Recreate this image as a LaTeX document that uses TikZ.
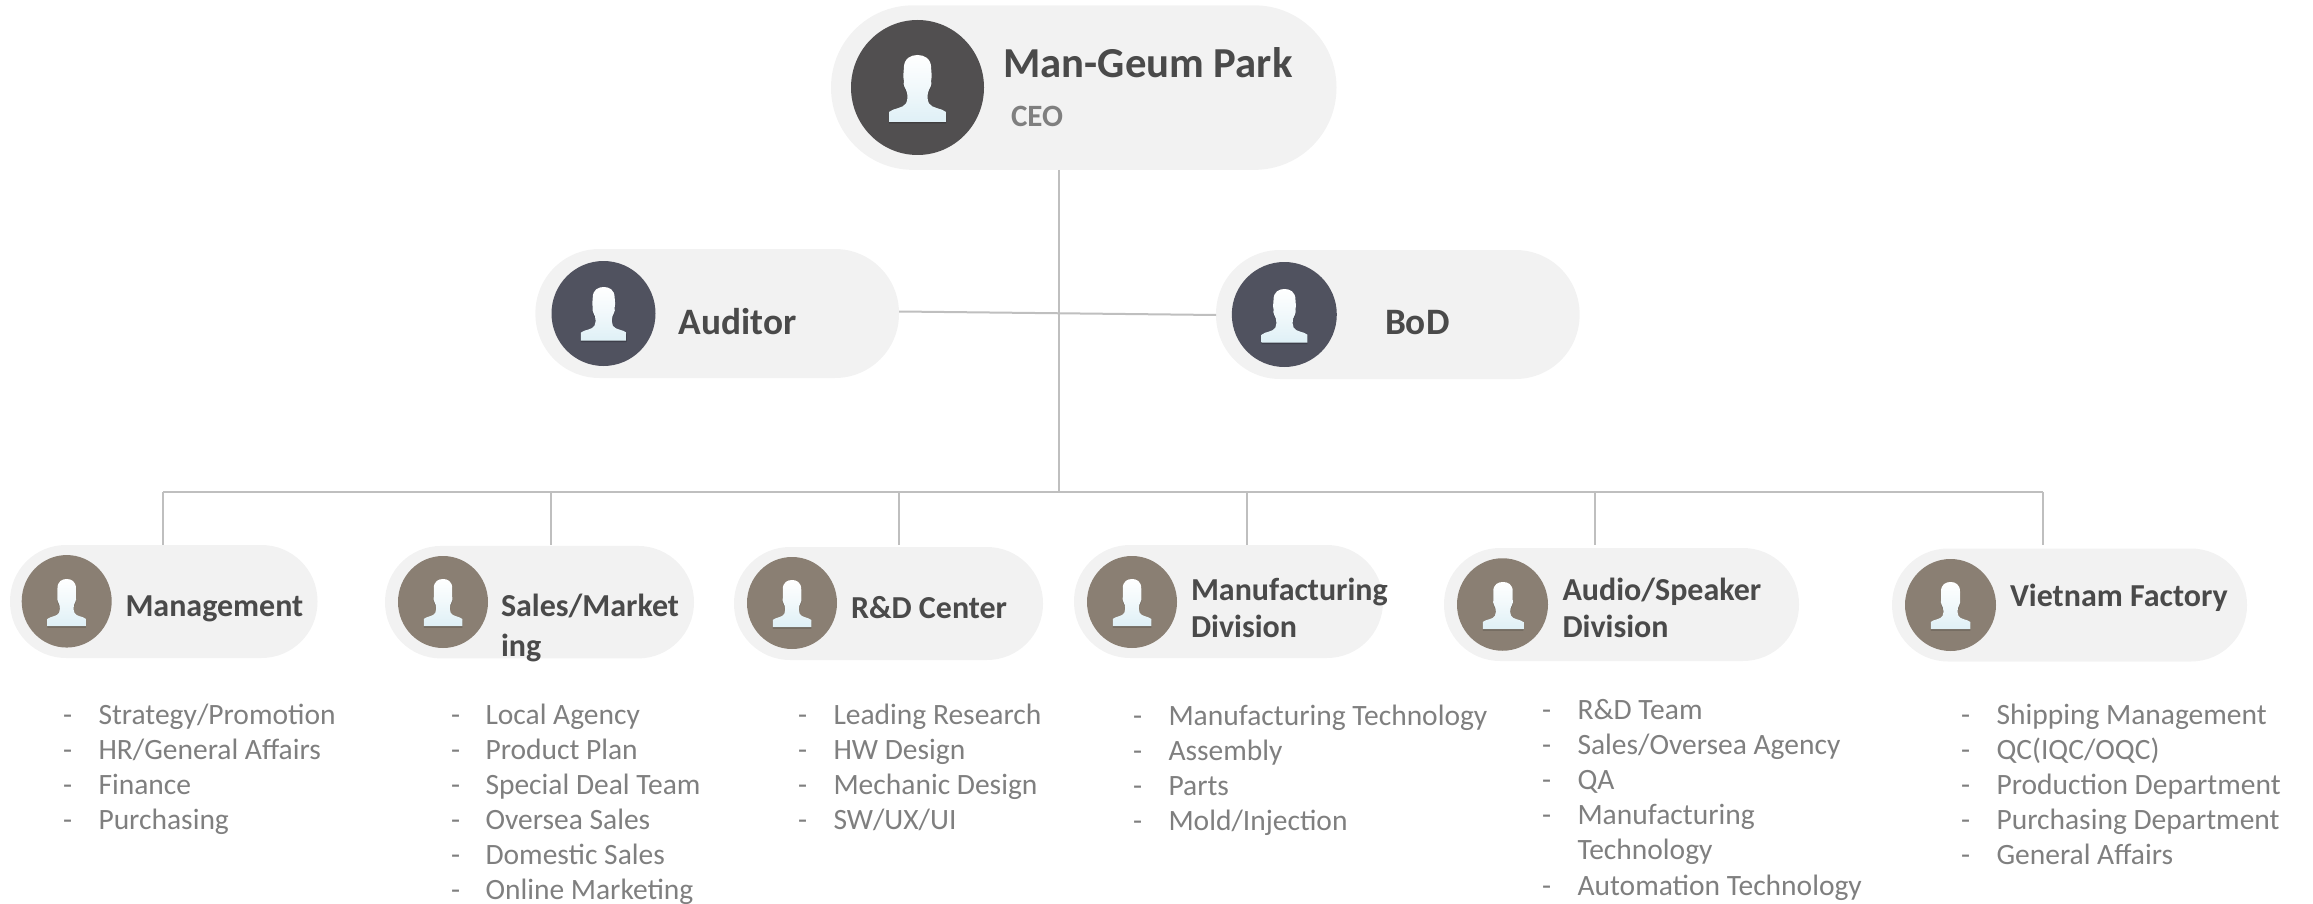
\documentclass[tikz,border=0pt]{standalone}
\usepackage{fontspec}
\setmainfont{Carlito}
\usetikzlibrary{shapes.geometric}
\definecolor{pillfill}{HTML}{F2F2F2}
\definecolor{linegrey}{HTML}{BFBFBF}
\definecolor{brownc}{HTML}{8A7F73}
\definecolor{darkc}{HTML}{514F50}
\definecolor{slatec}{HTML}{50525F}
\definecolor{nametext}{HTML}{4A4A4A}
\definecolor{listtext}{HTML}{7F7F7F}
\definecolor{iconbottom}{HTML}{DFF0F6}
\tikzset{
  pill/.style={rectangle,fill=pillfill,draw=none,inner sep=0pt,outer sep=0pt},
  disc/.style={ellipse,fill=#1,draw=none,inner sep=0pt,outer sep=0pt},
  link/.style={draw=linegrey,line width=2pt},
  nametxt/.style={anchor=base west,yshift=-1pt,inner sep=0pt,outer sep=0pt,text=nametext,align=left,font=\bfseries\fontsize{#1}{37.7}\selectfont},
  itemtxt/.style={anchor=base west,yshift=-1pt,inner sep=0pt,outer sep=0pt,text=listtext,font=\fontsize{29.5}{33}\selectfont},
}
\newcommand{\iconpath}{(-.5,1) -- (-.5,.85) .. controls (-.42,.79) and (-.25,.80) .. (-.2,.72) .. controls (-.17,.67) and (-.17,.6) .. (-.19,.55) .. controls (-.2,.5) and (-.26,.47) .. (-.24,.38) .. controls (-.26,.3) and (-.24,.27) .. (-.24,.2) .. controls (-.24,.05) and (-.12,0) .. (0,0) .. controls (.12,0) and (.24,.05) .. (.24,.2) .. controls (.24,.27) and (.26,.3) .. (.24,.38) .. controls (.26,.47) and (.2,.5) .. (.19,.55) .. controls (.17,.6) and (.17,.67) .. (.2,.72) .. controls (.25,.80) and (.42,.79) .. (.5,.85) -- (.5,1) -- cycle}
% centre x, top y, width, height
\newcommand{\person}[4]{%
  \path[fill=black,opacity=.22,shift={(#1,#2+1.5)},x=#3pt,y=-#4pt] \iconpath;
  \path[top color=white,bottom color=iconbottom,middle color=white!55!iconbottom,shift={(#1,#2)},x=#3pt,y=-#4pt] \iconpath;
}
% name, dash x, text x, baseline y, text
\newcommand{\lineitem}[5]{%
  \node[itemtxt] (#1d) at (#2,#4) {-};
  \node[itemtxt] (#1t) at (#3,#4) {#5};
}
\begin{document}
\begin{tikzpicture}[x=1pt,y=-1pt]
\useasboundingbox (0,0) rectangle (2313,904);
% pills
\node[pill,minimum width=505.5pt,minimum height=164.5pt,rounded corners=82pt] (ceo) at (1083.75,87.6) {};
\node[pill,minimum width=363.6pt,minimum height=129pt,rounded corners=64pt] (aud) at (717.2,313.5) {};
\node[pill,minimum width=363.6pt,minimum height=129pt,rounded corners=64pt] (bod) at (1397.8,314.5) {};
\node[pill,minimum width=307.5pt,minimum height=113pt,rounded corners=56pt] (p1) at (163.75,601.5) {};
\node[pill,minimum width=309pt,minimum height=112.5pt,rounded corners=56pt] (p2) at (539.5,602.2) {};
\node[pill,minimum width=309pt,minimum height=113pt,rounded corners=56pt] (p3) at (888.5,603.5) {};
\node[pill,minimum width=309pt,minimum height=113pt,rounded corners=56pt] (p4) at (1228.5,601.5) {};
\node[pill,minimum width=355pt,minimum height=113pt,rounded corners=56pt] (p5) at (1621.5,604.5) {};
\node[pill,minimum width=355pt,minimum height=113pt,rounded corners=56pt] (p6) at (2069.5,605) {};
% connector coordinates
\coordinate (hub) at (1059,492);
\coordinate (busl) at (163,492);
\coordinate (busr) at (2042.7,492);
\coordinate (d2) at (551,492);
\coordinate (d3) at (899.3,492);
\coordinate (d4) at (1247,492);
\coordinate (d5) at (1595,492);
\coordinate (e1) at (163,545);
\coordinate (e2) at (551,545);
\coordinate (e3) at (899.3,545);
\coordinate (e4) at (1247,545);
\coordinate (e5) at (1595,545);
\coordinate (e6) at (2042.7,545);
\draw[link] (ceo.south -| hub) -- (hub);
\draw[link] ([yshift=2pt]aud.east) -- ([yshift=-.5pt]bod.west);
\draw[link] (busl) -- (busr);
\draw[link] (busl) -- (e1);
\draw[link] (d2) -- (e2);
\draw[link] (d3) -- (e3);
\draw[link] (d4) -- (e4);
\draw[link] (d5) -- (e5);
\draw[link] (busr) -- (e6);
% discs
\node[disc=darkc,minimum width=133pt,minimum height=135pt] (ceoc) at (917.5,87.5) {};
\node[disc=slatec,minimum width=104pt,minimum height=105pt] (audc) at (603.5,313.5) {};
\node[disc=slatec,minimum width=105pt,minimum height=105pt] (bodc) at (1284.3,314.5) {};
\node[disc=brownc,minimum width=90pt,minimum height=92.5pt] (c1) at (66.7,601.3) {};
\node[disc=brownc,minimum width=90pt,minimum height=92pt] (c2) at (443,602) {};
\node[disc=brownc,minimum width=90pt,minimum height=92pt] (c3) at (792,603) {};
\node[disc=brownc,minimum width=90pt,minimum height=92pt] (c4) at (1132,602) {};
\node[disc=brownc,minimum width=91pt,minimum height=92.5pt] (c5) at (1502.5,604.5) {};
\node[disc=brownc,minimum width=91pt,minimum height=92pt] (c6) at (1950.5,605) {};
% icons
\person{917.5}{55}{57}{67}
\person{603.7}{287}{45.7}{53.7}
\person{1284.5}{289}{45.7}{53.7}
\person{66.7}{579}{38.5}{47}
\person{443}{579}{38.5}{47}
\person{792}{580}{38.5}{47}
\person{1132}{579}{38.5}{47}
\person{1503}{582}{40.5}{47}
\person{1950.5}{582}{39.5}{47}
% names
\node[nametxt=42.7] (t0) at (1003.5,76.5) {Man-Geum Park};
\node[nametxt=31,text=listtext] (t0b) at (1011,126) {CEO};
\node[nametxt=37.3] (ta) at (678.6,333) {Auditor};
\node[nametxt=37.3] (tb) at (1385,333) {BoD};
\node[nametxt=32] (t1) at (125.5,615) {Management};
\node[nametxt=32] (t2) at (501,655) {Sales/Market\\[2.3pt]ing};
\node[nametxt=32] (t3) at (851,617.7) {R\&D Center};
\node[nametxt=32] (t4) at (1191,636.7) {Manufacturing\\Division};
\node[nametxt=32] (t5) at (1562.5,636.7) {Audio/Speaker\\Division};
\node[nametxt=32] (t6) at (2010,605) {Vietnam Factory};
% lists
\lineitem{a1}{63}{98.5}{723}{Strategy/Promotion}
\lineitem{a2}{63}{98.5}{758}{HR/General Affairs}
\lineitem{a3}{63}{98.5}{793}{Finance}
\lineitem{a4}{63}{98.5}{828}{Purchasing}
\lineitem{b1}{451}{485.5}{723}{Local Agency}
\lineitem{b2}{451}{485.5}{758}{Product Plan}
\lineitem{b3}{451}{485.5}{793}{Special Deal Team}
\lineitem{b4}{451}{485.5}{828}{Oversea Sales}
\lineitem{b5}{451}{485.5}{863}{Domestic Sales}
\lineitem{b6}{451}{485.5}{898}{Online Marketing}
\lineitem{c1}{798}{833.5}{723}{Leading Research}
\lineitem{c2}{798}{833.5}{758}{HW Design}
\lineitem{c3}{798}{833.5}{793.5}{Mechanic Design}
\lineitem{c4}{798}{833.5}{828}{SW/UX/UI}
\lineitem{d1}{1133}{1168.5}{724}{Manufacturing Technology}
\lineitem{d2}{1133}{1168.5}{759}{Assembly}
\lineitem{d3}{1133}{1168.5}{794}{Parts}
\lineitem{d4}{1133}{1168.5}{829}{Mold/Injection}
\lineitem{e1}{1542}{1577.5}{718}{R\&D Team}
\lineitem{e2}{1542}{1577.5}{753}{Sales/Oversea Agency}
\lineitem{e3}{1542}{1577.5}{788}{QA}
\lineitem{e4}{1542}{1577.5}{823}{Manufacturing}
\node[itemtxt] (e4b) at (1577.5,858) {Technology};
\lineitem{e5}{1542}{1577.5}{894}{Automation Technology}
\lineitem{f1}{1961}{1996.5}{723}{Shipping Management}
\lineitem{f2}{1961}{1996.5}{758}{QC(IQC/OQC)}
\lineitem{f3}{1961}{1996.5}{793}{Production Department}
\lineitem{f4}{1961}{1996.5}{828}{Purchasing Department}
\lineitem{f5}{1961}{1996.5}{863}{General Affairs}
\end{tikzpicture}
\end{document}
